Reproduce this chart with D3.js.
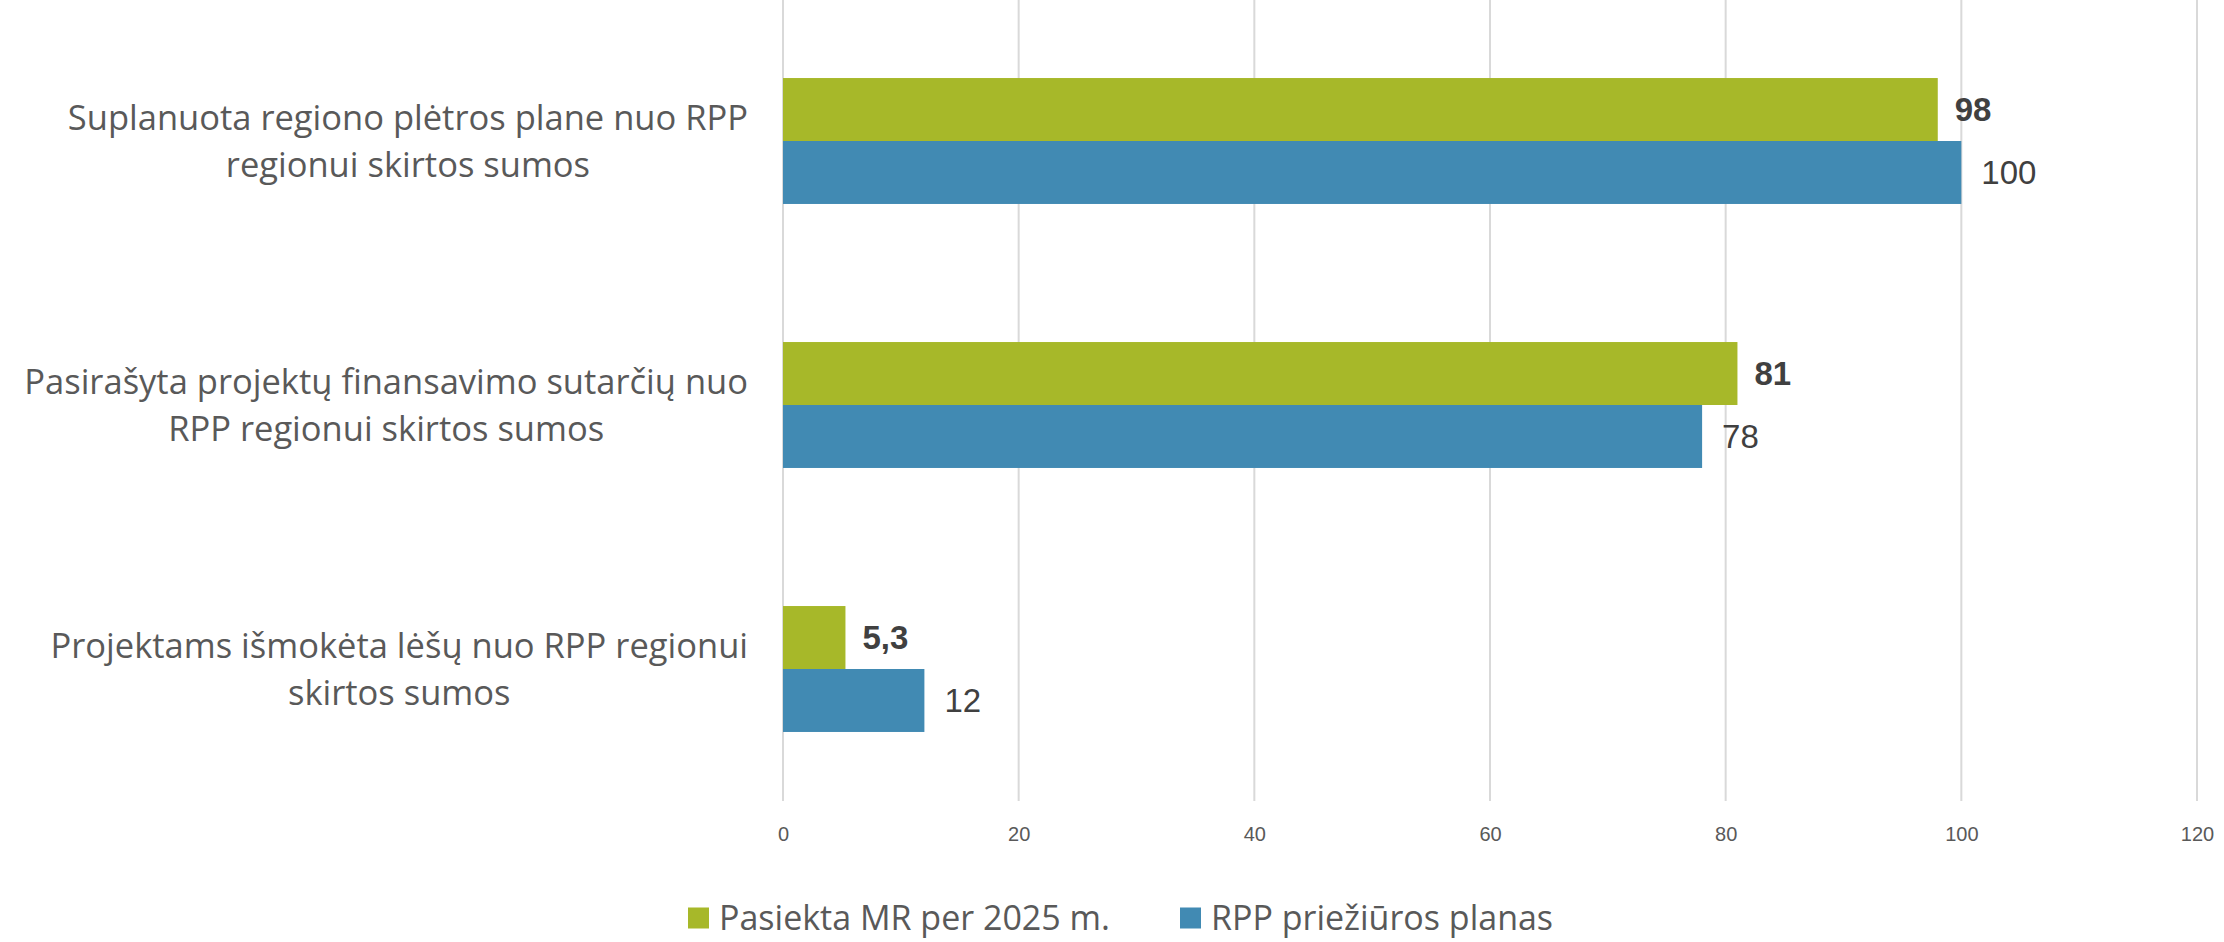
<!DOCTYPE html>
<html>
<head>
<meta charset="utf-8">
<script src="https://cdn.jsdelivr.net/npm/d3@7"></script>
<style>
  body { margin: 0; background: #fff; }
  svg text { font-family: "Liberation Sans", Arial, sans-serif; }
  .cat, .leg { font-family: "Open Sans", "Noto Sans", sans-serif; }
</style>
</head>
<body>
<div id="container"></div>
<script>
let categories = [
    ["Suplanuota regiono plėtros plane nuo RPP", "regionui skirtos sumos"],
    ["Pasirašyta projektų finansavimo sutarčių nuo", "RPP regionui skirtos sumos"],
    ["Projektams išmokėta lėšų nuo RPP regionui", "skirtos sumos"]
];
let seriesNames = ["Pasiekta MR per 2025 m.", "RPP priežiūros planas"];
let achieved = [98, 81, 5.3];
let planned = [100, 78, 12];
let achievedLabels = ["98", "81", "5,3"];
let plannedLabels = ["100", "78", "12"];
let ticks = [0, 20, 40, 60, 80, 100, 120];
let colors = ["#A7B829", "#418AB3"];

let W = 2224, H = 942;
let plotLeft = 783, plotRight = 2197, plotTop = 9, plotBottom = 801;

let svg = d3.select('#container').append('svg')
    .attr('width', W).attr('height', H);

let x = d3.scaleLinear().domain([0, 120]).range([plotLeft, plotRight]);
let y = d3.scaleBand().domain(d3.range(categories.length)).range([plotTop, plotBottom]).paddingInner(0.523).paddingOuter(0.2615);
let sub = d3.scaleBand().domain([0, 1]).range([0, y.bandwidth()]);

// grid
svg.append('g').selectAll('line').data(ticks).join('line')
    .attr('x1', d => x(d)).attr('x2', d => x(d))
    .attr('y1', 0).attr('y2', plotBottom)
    .attr('stroke', '#d9d9d9').attr('stroke-width', 2);

// x axis labels
let xAxis = d3.axisBottom(x).tickValues(ticks).tickSize(0).tickPadding(0);
let ax = svg.append('g').attr('transform', 'translate(0,' + (plotBottom + 26) + ')').call(xAxis);
ax.select('.domain').remove();
ax.selectAll('text').attr('font-size', 20).attr('fill', '#595959')
    .style('font-family', '"Liberation Sans Narrow", "Liberation Sans", sans-serif');

let series = [achieved, planned];
let labels = [achievedLabels, plannedLabels];
series.forEach(function (vals, s) {
    let g = svg.append('g');
    g.selectAll('rect').data(vals).join('rect')
        .attr('x', x(0))
        .attr('y', (d, i) => y(i) + sub(s))
        .attr('width', d => x(d) - x(0))
        .attr('height', sub.bandwidth())
        .attr('fill', colors[s]);
    g.selectAll('text').data(vals).join('text')
        .attr('x', d => x(d) + (s === 0 ? 17 : 20))
        .attr('y', (d, i) => y(i) + sub(s) + sub.bandwidth() / 2)
        .attr('dy', '0.36em')
        .attr('font-size', 33)
        .attr('font-weight', s === 0 ? 'bold' : 'normal')
        .attr('fill', '#404040')
        .text((d, i) => labels[s][i]);
});

// category labels: block right aligned to the axis, lines centered in block
categories.forEach(function (lines, i) {
    let t = svg.append('text').attr('class', 'cat')
        .attr('font-size', 34.5).attr('fill', '#595959')
        .attr('text-anchor', 'middle');
    let cy = y(i) + y.bandwidth() / 2;
    let lh = 47;
    lines.forEach(function (ln, k) {
        t.append('tspan')
            .attr('y', cy + (k - (lines.length - 1) / 2) * lh)
            .attr('dy', '0.36em')
            .text(ln);
    });
    let wmax = d3.max(t.selectAll('tspan').nodes(), n => n.getComputedTextLength());
    t.selectAll('tspan').attr('x', 748 - wmax / 2);
});

// legend
let leg = svg.append('g').attr('transform', 'translate(0,918)');
let lx = [688, 1180];
seriesNames.forEach(function (name, s) {
    leg.append('rect').attr('x', lx[s]).attr('y', -10.5).attr('width', 21).attr('height', 21).attr('fill', colors[s]);
    leg.append('text').attr('class', 'leg').attr('x', lx[s] + 31).attr('y', 0).attr('dy', '0.36em')
        .attr('font-size', 34).attr('fill', '#595959').text(name);
});
</script>
</body>
</html>
